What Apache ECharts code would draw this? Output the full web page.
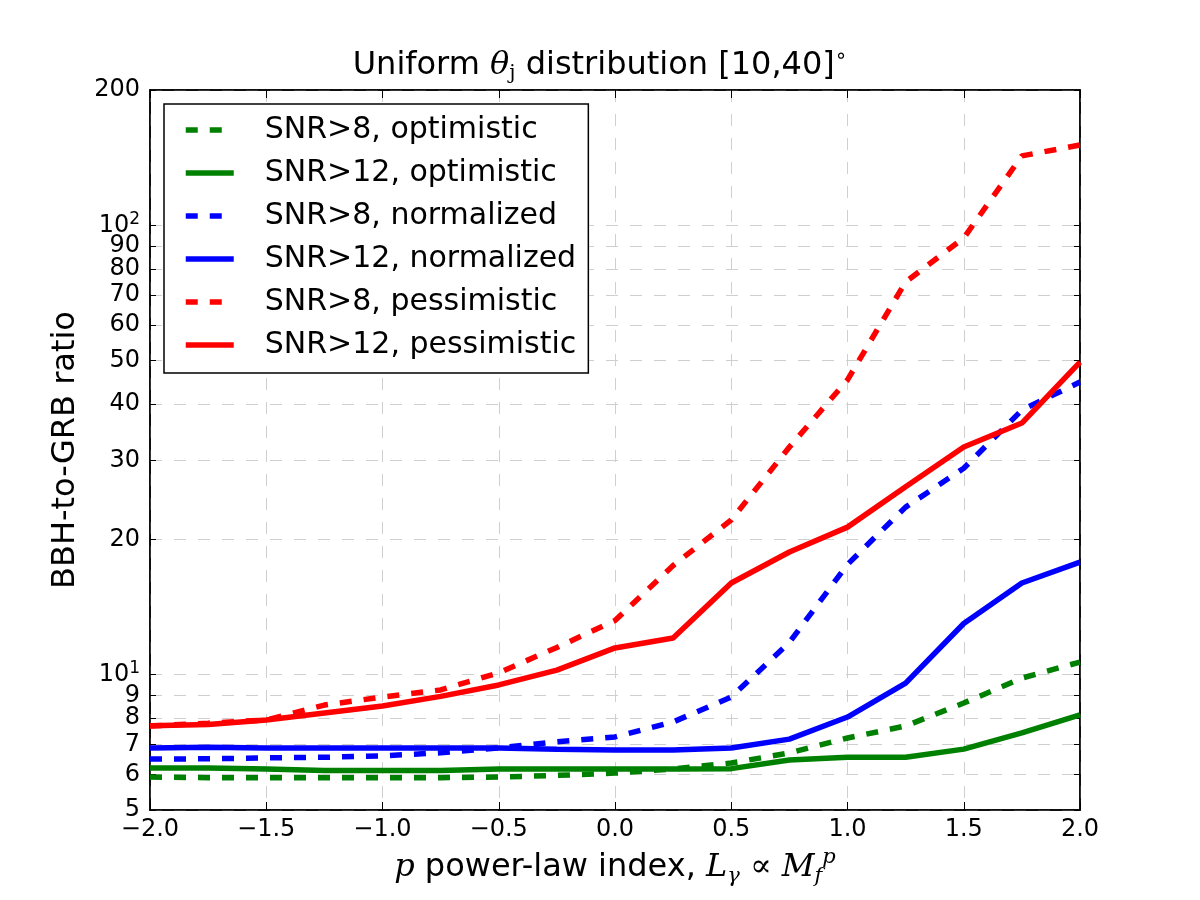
<!DOCTYPE html>
<html>
<head>
<meta charset="utf-8">
<script src="https://cdn.jsdelivr.net/npm/echarts@6/dist/echarts.min.js"></script>
<style>
  html, body { margin: 0; padding: 0; background: #fff; }
  #main { width: 1200px; height: 900px; }
</style>
</head>
<body>
<div id="main"></div>
<script>
var pValues = [-2, -1.75, -1.5, -1.25, -1, -0.75, -0.5, -0.25, 0, 0.25, 0.5, 0.75, 1, 1.25, 1.5, 1.75, 2];

var snr8Optimistic = [5.92, 5.9, 5.9, 5.9, 5.9, 5.9, 5.92, 5.97, 6.04, 6.17, 6.36, 6.7, 7.23, 7.69, 8.65, 9.83, 10.67];
var snr12Optimistic = [6.2, 6.2, 6.17, 6.12, 6.12, 6.12, 6.17, 6.17, 6.17, 6.17, 6.18, 6.46, 6.55, 6.55, 6.83, 7.42, 8.14];
var snr8Normalized = [6.49, 6.5, 6.53, 6.55, 6.6, 6.7, 6.87, 7.09, 7.27, 7.85, 8.92, 11.8, 17.6, 23.6, 28.8, 38.8, 44.8];
var snr12Normalized = [6.87, 6.9, 6.87, 6.87, 6.87, 6.87, 6.87, 6.83, 6.8, 6.8, 6.87, 7.19, 8.05, 9.58, 13.0, 16.0, 17.8];
var snr8Pessimistic = [7.69, 7.8, 7.93, 8.56, 8.92, 9.25, 10.1, 11.5, 13.2, 17.5, 22.1, 32.1, 45.3, 74.8, 93.7, 142.7, 150.9];
var snr12Pessimistic = [7.7, 7.75, 7.93, 8.22, 8.52, 8.95, 9.49, 10.24, 11.47, 12.07, 16.0, 18.75, 21.3, 26.2, 32.1, 36.3, 49.6];

var yTicks = [5, 6, 7, 8, 9, 10, 20, 30, 40, 50, 60, 70, 80, 90, 100, 200];

var seriesNames = [
  'SNR>8, optimistic', 'SNR>12, optimistic',
  'SNR>8, normalized', 'SNR>12, normalized',
  'SNR>8, pessimistic', 'SNR>12, pessimistic'
];
var seriesColors = ['#008000', '#008000', '#0000ff', '#0000ff', '#ff0000', '#ff0000'];
var seriesDashed = [true, false, true, false, true, false];

var FONT = 'DejaVu Sans';
var gridColor = '#cfcfcf';
var DASH = [12, 12];

function pairs(ys) {
  return pValues.map(function (p, i) { return [p, ys[i]]; });
}

function lineStyleFor(i) {
  return { color: seriesColors[i], width: 5.5, type: seriesDashed[i] ? DASH : 'solid' };
}

function makeLine(i, ys) {
  return {
    name: seriesNames[i],
    type: 'line',
    data: pairs(ys),
    symbol: 'none',
    animation: false,
    lineStyle: lineStyleFor(i),
    itemStyle: { color: seriesColors[i] }
  };
}

function yLabel(v) {
  if (v === 10) return '{m|10}{s|1}';
  if (v === 100) return '{m|10}{s|2}';
  return String(v);
}

var chart = echarts.init(document.getElementById('main'));

var option = {
  backgroundColor: '#fff',
  animation: false,
  title: {
    text: 'Uniform {i|θ}{sub|j} distribution [10,40]{sup|∘}',
    left: 'center',
    top: 42,
    textStyle: {
      fontFamily: FONT, fontSize: 32, fontWeight: 'normal', color: '#000',
      rich: {
        i: { fontFamily: 'DejaVu Serif', fontStyle: 'italic', fontSize: 32 },
        sub: { fontFamily: 'DejaVu Serif', fontSize: 20, padding: [17, 0, 0, 0] },
        sup: { fontFamily: FONT, fontSize: 20, padding: [0, 0, 17, 0] }
      }
    }
  },
  legend: {
    orient: 'vertical',
    left: 164,
    top: 104,
    padding: [11, 12, 13, 19],
    itemWidth: 48,
    itemHeight: 30,
    itemGap: 13,
    backgroundColor: '#fff',
    borderColor: '#000',
    borderWidth: 1.5,
    borderRadius: 0,
    itemStyle: { opacity: 0 },
    data: seriesNames.map(function (n, i) {
      return { name: n, itemStyle: { opacity: 0 }, lineStyle: lineStyleFor(i) };
    }),
    textStyle: {
      fontFamily: FONT, fontSize: 30, color: '#000',
      padding: [0, 0, 0, 26]
    }
  },
  grid: {
    left: 150, right: 120, top: 90, bottom: 90,
    show: true, borderColor: '#000', borderWidth: 1.5
  },
  xAxis: [
    {
      type: 'value', min: -2, max: 2, interval: 0.5,
      name: '{i|p} power-law index, {i|L}{sub|γ} {r|∝} {i|M}{sub|f}{sup|p}',
      nameLocation: 'middle', nameGap: 26,
      nameTextStyle: {
        fontFamily: FONT, fontSize: 32, color: '#000',
        rich: {
          i: { fontFamily: 'DejaVu Serif', fontStyle: 'italic', fontSize: 32 },
          r: { fontFamily: 'DejaVu Serif', fontSize: 32 },
          sub: { fontFamily: 'DejaVu Serif', fontStyle: 'italic', fontSize: 21, padding: [18, 0, 0, 0] },
          sup: { fontFamily: 'DejaVu Serif', fontStyle: 'italic', fontSize: 21, padding: [0, 0, 20, 0] }
        }
      },
      axisLine: { onZero: false, lineStyle: { color: '#000', width: 1.5 } },
      axisTick: { inside: true, length: 8, lineStyle: { color: '#000' } },
      axisLabel: {
        margin: 8, fontFamily: FONT, fontSize: 24, color: '#000',
        formatter: function (v) { return v.toFixed(1).replace('-', '\u2212'); }
      },
      splitLine: { show: true, lineStyle: { color: gridColor, type: DASH, width: 1 } }
    },
    {
      type: 'value', min: -2, max: 2, interval: 0.5, position: 'top',
      axisLine: { onZero: false, lineStyle: { color: '#000', width: 1.5 } },
      axisTick: { inside: true, length: 8, lineStyle: { color: '#000' } },
      axisLabel: { show: false },
      splitLine: { show: false }
    }
  ],
  yAxis: [
    {
      type: 'log', logBase: 10, min: 5, max: 200,
      name: 'BBH-to-GRB ratio',
      nameLocation: 'middle', nameGap: 68,
      nameTextStyle: { fontFamily: FONT, fontSize: 32, color: '#000' },
      axisLine: { onZero: false, lineStyle: { color: '#000', width: 1.5 } },
      axisTick: { inside: true, length: 6, customValues: yTicks, lineStyle: { color: '#000' } },
      axisLabel: {
        margin: 10, fontFamily: FONT, fontSize: 24, color: '#000',
        customValues: yTicks,
        formatter: yLabel,
        rich: {
          m: { fontFamily: FONT, fontSize: 24 },
          s: { fontFamily: FONT, fontSize: 17, padding: [0, 0, 12, 0] }
        }
      },
      splitLine: { show: true, lineStyle: { color: gridColor, type: DASH, width: 1 } }
    },
    {
      type: 'log', logBase: 10, min: 5, max: 200, position: 'right',
      axisLine: { onZero: false, lineStyle: { color: '#000', width: 1.5 } },
      axisTick: { inside: true, length: 6, customValues: yTicks, lineStyle: { color: '#000' } },
      axisLabel: { show: false },
      splitLine: { show: false }
    }
  ],
  series: [
    makeLine(0, snr8Optimistic),
    makeLine(1, snr12Optimistic),
    makeLine(2, snr8Normalized),
    makeLine(3, snr12Normalized),
    makeLine(4, snr8Pessimistic),
    makeLine(5, snr12Pessimistic)
  ]
};

chart.setOption(option);
</script>
</body>
</html>
